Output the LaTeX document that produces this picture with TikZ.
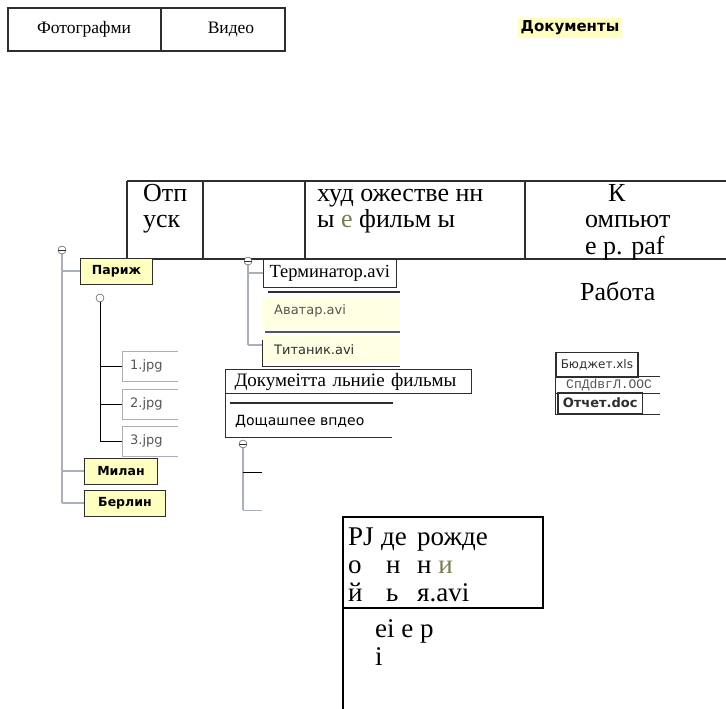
\documentclass[tikz,border=0pt]{standalone}
\usepackage{fontspec}
\setmainfont{Liberation Serif}
\newfontfamily\pixfont{DejaVu Sans}
\newfontfamily\typefont{Liberation Mono}
\definecolor{oliveink}{HTML}{7A7A4E}
\definecolor{paleyel}{HTML}{FFFFC0}
\definecolor{treegray}{HTML}{A9B0BA}
\definecolor{boxline}{HTML}{2E2E2E}
\definecolor{fileink}{HTML}{555555}
\newcommand{\cellstrut}{\rule{0pt}{19pt}}
\tikzset{
  cell/.style={font=\fontsize{26}{26.5}\selectfont, anchor=north west, inner sep=0pt, align=left},
  lowcell/.style={font=\fontsize{27}{28}\selectfont, anchor=north west, inner sep=0pt, align=left},
  tab/.style={font=\fontsize{17.5}{19}\selectfont, inner sep=0pt},
  folder/.style={draw=boxline, fill=paleyel, line width=1pt, font=\pixfont\bfseries\fontsize{12.5}{14}\selectfont, inner sep=3pt, anchor=west, minimum height=26pt},
  filebox/.style={font=\pixfont\fontsize{13}{15}\selectfont, text=fileink, anchor=west, inner sep=0pt},
  branch/.style={treegray, line width=2.5pt},
  twig/.style={black, line width=1pt},
  rule/.style={boxline, line width=1.5pt},
  toggle/.style={circle, draw=boxline, fill=white, inner sep=0pt, minimum size=8pt},
  minus/.style={toggle, path picture={\draw[boxline] (path picture bounding box.west) -- (path picture bounding box.east);}}
}
\begin{document}
\begin{tikzpicture}[x=1pt,y=-1pt]
  \useasboundingbox (0,0) rectangle (726,709);
  % tabs
  \draw[rule] (8,8) rectangle (285,51);
  \draw[rule] (161,8) -- (161,51);
  \node[tab] (photo) at (84,29) {Фотографми};
  \node[tab] (video) at (231,29) {Видео};
  \node[fill=paleyel, inner xsep=3pt, inner ysep=3pt, font=\pixfont\bfseries\fontsize{15}{17}\selectfont] (docs) at (570,28) {Документы};
  % big table
  \draw[rule] (127,181) -- (726,181);
  \draw[rule] (127,259) -- (726,259);
  \foreach \x in {127,203,305,525}
    \draw[rule] (\x,181) -- (\x,259);
  \node[cell] (otp) at (143,182) {\cellstrut Отп\\уск};
  \node[cell] (hud) at (317,182) {\cellstrut худ ожестве нн\\ы \textcolor{oliveink}{е} фильм ы};
  \node[cell] (comp) at (585,182) {\cellstrut\hspace*{23pt}К\\омпьют\\е р. paf};
  \node[font=\fontsize{26}{27}\selectfont, anchor=base west, inner sep=0pt] (work) at (580,300) {Работа};
  % left tree
  \node[minus] (root) at (62,250) {};
  \draw[branch] (root.south) -- (62,503);
  \node[folder, minimum width=72pt] (paris) at (80,271) {Париж};
  \node[folder, minimum width=73pt] (milan) at (84,471) {Милан};
  \node[folder, minimum width=81pt] (berlin) at (84,503) {Берлин};
  \draw[branch] (root |- paris.west) -- (paris.west);
  \draw[branch] (root |- milan.west) -- (milan.west);
  \draw[branch, line width=1.5pt] (root |- berlin.west) -- (berlin.west);
  \node[toggle] (sub) at (100,298) {};
  \draw[twig] (sub.south) -- (100,441);
  \foreach \n/\y in {1/366,2/404,3/441}{
    \draw[treegray, line width=1pt] (178,\y-15) -- (122,\y-15) -- (122,\y+15) -- (178,\y+15);
    \node[filebox] (jpg\n) at (130,\y) {\n.jpg};
    \draw[twig] (sub |- jpg\n.west) -- (122,\y);
  }
  % middle tree
  \fill[paleyel!45] (262,297) rectangle (400,329);
  \fill[paleyel!45] (262,336) rectangle (400,364);
  \node[minus] (mid) at (248,261) {};
  \draw[branch] (mid.south) -- (248,345);
  \node[draw=boxline, line width=1pt, fill=white, font=\fontsize{18.5}{20}\selectfont, anchor=west, inner xsep=6pt, minimum height=28pt] (term) at (263,273) {Терминатор.avi};
  \draw[branch] (mid |- term.west) -- (term.west);
  \draw[boxline, line width=2.5pt] (268,292) -- (400,292);
  \node[filebox] (avatar) at (274,311) {Аватар.avi};
  \draw[boxline!80, line width=2.5pt] (265,332) -- (400,332);
  \node[filebox, text=boxline] (titan) at (274,350) {Титаник.avi};
  \draw[branch] (248,345) -- (262,345);
  \draw[boxline, line width=1pt] (262,340) -- (262,366) -- (400,366);
  \node[draw=boxline, line width=1pt, anchor=north west, minimum width=245pt, minimum height=24pt, inner xsep=9pt, text width=228pt, font=\fontsize{19}{20}\selectfont] (docfilm) at (225,369) {Докумеітта льниіе фильмы};
  \draw[boxline, line width=2pt] (230,403) -- (393,403);
  \node[anchor=west, inner sep=0pt, font=\pixfont\fontsize{14}{16}\selectfont] (home) at (235,421) {Дощашпее впдео};
  \draw[boxline, line width=1pt] (docfilm.south west) -- (225,437) -- (392,437);
  \node[minus] (low) at (243,444) {};
  \draw[branch] (low.south) -- (243,510);
  \draw[twig] (243,472) -- (262,472);
  \draw[treegray, line width=1pt] (243,510) -- (262,510);
  % right column
  \node[draw=boxline, line width=1.5pt, anchor=west, inner xsep=5pt, minimum height=25pt, font=\pixfont\fontsize{12}{14}\selectfont, text=boxline] (budget) at (555,365) {Бюджет.xls};
  \node[anchor=west, inner sep=0pt, font=\typefont\fontsize{13}{15}\selectfont, text=fileink] (spd) at (566,385) {СпДdвгЛ.OOC};
  \node[draw=boxline, line width=1.5pt, anchor=west, inner xsep=5pt, minimum height=21pt, font=\pixfont\bfseries\fontsize{13}{15}\selectfont, text=boxline] (report) at (557,403) {Отчет.doc};
  \draw[boxline, line width=1pt] (555,353) -- (555,414);
  \draw[boxline, line width=1pt] (555,376) -- (660,376);
  \draw[boxline, line width=1pt] (555,393) -- (660,393);
  \draw[boxline, line width=1pt] (555,414) -- (660,414);
  % bottom box
  \draw[line width=1.5pt] (343,517) rectangle (543,608);
  \draw[line width=1.5pt] (343,608) -- (343,709);
  \node[lowcell] (c1) at (348,526) {\cellstrut PJ\\о\\й};
  \node[lowcell] (c2) at (381,526) {\cellstrut де\\\hspace*{5pt}н\\\hspace*{5pt}ь};
  \node[lowcell] (c3) at (417,526) {\cellstrut рожде\\н \textcolor{oliveink}{и}\\я.avi};
  \node[lowcell] (eie) at (375,618) {\cellstrut ei е р\\i};
\end{tikzpicture}
\end{document}
